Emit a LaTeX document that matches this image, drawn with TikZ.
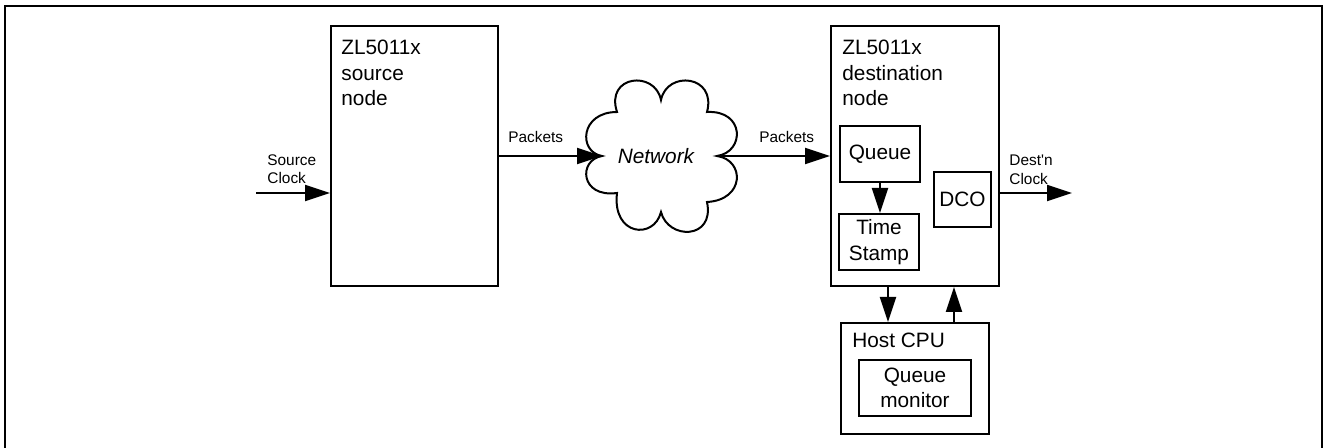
\documentclass[tikz,border=0pt]{standalone}
\usepackage{fontspec}
\setmainfont{Liberation Sans}
\usetikzlibrary{arrows.meta}
\tikzset{
  blk/.style={draw,line width=1pt,inner sep=0pt},
  arr/.style={line width=1pt,-{Triangle[length=12.5pt,width=8pt]}},
  big/.style={font=\fontsize{10.4}{12.7}\selectfont},
  small/.style={font=\fontsize{7.7}{9.3}\selectfont},
  txt/.style={anchor=north west,inner sep=0pt,align=left},
}
\begin{document}
\begin{tikzpicture}[x=0.5pt,y=-0.5pt]
\useasboundingbox (0,0) rectangle (1324,448);
\draw[line width=1pt] (5,448) -- (5,6) -- (1322,6) -- (1322,448);
\node[blk,minimum width=83.5pt,minimum height=130pt] (S) at (414.5,156) {};
\node[big,txt] (s) at (341,40) {ZL5011x\\source\\node};
\node[blk,minimum width=84pt,minimum height=130pt] (D) at (915,156) {};
\node[big,txt] (d) at (842,40) {ZL5011x\\destination\\node};
\node[blk,big,minimum width=40pt,minimum height=28pt] (Q) at (880,154) {Queue};
\node[blk,big,align=center,minimum width=40pt,minimum height=28pt] (T) at (879,242) {Time\\Stamp};
\node[blk,big,minimum width=28.5pt,minimum height=27.5pt] (O) at (962.5,199.5) {DCO};
\node[blk,minimum width=74pt,minimum height=55.5pt] (H) at (915,378.5) {};
\node[big,txt] (h) at (852,333) {Host CPU};
\node[blk,big,align=center,minimum width=56pt,minimum height=28pt] (M) at (915,388) {Queue\\monitor};
\coordinate (nl) at (602,156);
\coordinate (nr) at (717,156);
\draw[line width=1pt] (617,112) .. controls (605,75) and (655,70) .. (661,100)
  .. controls (667,70) and (717,75) .. (707,112)
  .. controls (745,110) and (745,152) .. (nr)
  .. controls (745,160) and (745,200) .. (707,202)
  .. controls (715,240) and (668,240) .. (661,212)
  .. controls (654,240) and (612,236) .. (617,193)
  .. controls (580,198) and (578,160) .. (nl)
  .. controls (578,152) and (580,112) .. cycle;
\node[font=\fontsize{10.4}{12.7}\selectfont\itshape] (N) at (656,156) {Network};
\coordinate (ci) at (256,193);
\draw[arr] (ci) -- (ci -| S.west);
\node[small,txt] (c1) at (267,154) {Source\\Clock};
\draw[arr] (S.east) -- (nl);
\node[small,txt] (p1) at (508,131) {Packets};
\draw[arr] (nr) -- (D.west);
\node[small,txt] (p2) at (759,131) {Packets};
\draw[arr] (Q.south) -- (Q.south |- T.north);
\coordinate (co) at (1072,193);
\draw[arr] (co -| D.east) -- (co);
\node[small,txt] (c2) at (1009,155) {Dest\textquotesingle n\\Clock};
\draw[arr] ([xshift=-13.5pt]D.south) -- ([xshift=-13.5pt]H.north);
\draw[arr] ([xshift=19.5pt]H.north) -- ([xshift=19.5pt]D.south);
\end{tikzpicture}
\end{document}
